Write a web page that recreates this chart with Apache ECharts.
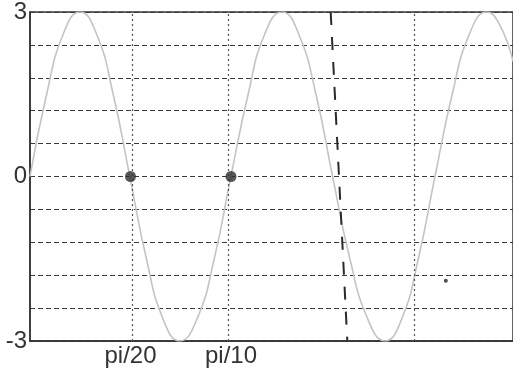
<!DOCTYPE html>
<html>
<head>
<meta charset="utf-8">
<script src="https://cdn.jsdelivr.net/npm/echarts@6/dist/echarts.min.js"></script>
<style>
  html, body { margin: 0; padding: 0; background: #fff; }
  #chart { width: 513px; height: 370px; }
</style>
</head>
<body>
<div id="chart"></div>
<script>
  // curve samples (t in radians, y value)
  var curveT = [0, 0.026, 0.052, 0.078, 0.104, 0.130, 0.156, 0.182, 0.208, 0.234,
    0.261, 0.288, 0.314, 0.341, 0.367, 0.394, 0.420, 0.447, 0.473, 0.500,
    0.528, 0.555, 0.581, 0.607, 0.633, 0.660, 0.687, 0.714, 0.734, 0.755];
  var curveY = [0, 1.5, 2.6, 3, 2.6, 1.5, 0, -1.5, -2.6, -3,
    -2.6, -1.5, 0, 1.5, 2.6, 3, 2.6, 1.5, 0, -1.5,
    -2.6, -3, -2.6, -1.5, 0, 1.5, 2.6, 3, 2.77, 2.1];

  var dotT = [Math.PI / 20, Math.PI / 10];
  var dotY = [0, 0];

  var slashT = [0.470, 0.496];
  var slashY = [3, -3];

  var strayT = [0.65];
  var strayY = [-1.9];

  var xTicks = [Math.PI / 20, Math.PI / 10];
  var xTickLabels = ['pi/20', 'pi/10'];
  var xGridT = [Math.PI / 20, Math.PI / 10, 0.605];
  var yLabels = [-3, 0, 3];

  function pairs(a, b) {
    var out = [];
    a.forEach(function (v, i) { out.push([v, b[i]]); });
    return out;
  }

  var chart = echarts.init(document.getElementById('chart'));
  chart.setOption({
    backgroundColor: '#fff',
    animation: false,
    grid: {
      left: 30, right: -2, top: 12, bottom: 29,
      show: true, borderColor: '#333', borderWidth: 1.5
    },
    xAxis: {
      type: 'value',
      min: 0,
      max: 0.755,
      axisLine: { show: true, onZero: false, lineStyle: { color: '#333', width: 1.5 } },
      axisTick: { show: false },
      splitLine: { show: false },
      axisLabel: {
        customValues: xTicks,
        formatter: function (v) {
          var i = xTicks.findIndex(function (t) { return Math.abs(t - v) < 1e-6; });
          return i >= 0 ? xTickLabels[i] : '';
        },
        color: '#333',
        fontFamily: 'Liberation Sans',
        fontSize: 24,
        margin: 3
      }
    },
    yAxis: {
      type: 'value',
      min: -3,
      max: 3,
      interval: 0.6,
      axisLine: { show: true, lineStyle: { color: '#333', width: 1.5 } },
      axisTick: { show: false },
      splitLine: { show: true, lineStyle: { color: '#3a3a3a', width: 1, type: [5, 3] } },
      axisLabel: {
        formatter: function (v) {
          for (var i = 0; i < yLabels.length; i++) {
            if (Math.abs(v - yLabels[i]) < 1e-6) return String(yLabels[i]);
          }
          return '';
        },
        color: '#333',
        fontFamily: 'Liberation Sans',
        fontSize: 24,
        margin: 3
      }
    },
    series: [
      {
        type: 'line',
        data: pairs(curveT, curveY),
        smooth: true,
        showSymbol: false,
        lineStyle: { color: '#c4c4c4', width: 1.6 },
        markLine: {
          silent: true,
          symbol: 'none',
          label: { show: false },
          lineStyle: { color: '#555', width: 1.2, type: [2, 3] },
          data: xGridT.map(function (t) { return { xAxis: t }; })
        },
        z: 3
      },
      {
        type: 'line',
        data: pairs(slashT, slashY),
        showSymbol: false,
        lineStyle: { color: '#2a2a2a', width: 2, type: [13, 12] },
        z: 4
      },
      {
        type: 'scatter',
        data: pairs(dotT, dotY),
        symbolSize: 11,
        itemStyle: { color: '#2e2e2e' },
        z: 5
      },
      {
        type: 'scatter',
        data: pairs(strayT, strayY),
        symbolSize: 4,
        itemStyle: { color: '#222' },
        z: 5
      }
    ]
  });
</script>
</body>
</html>
